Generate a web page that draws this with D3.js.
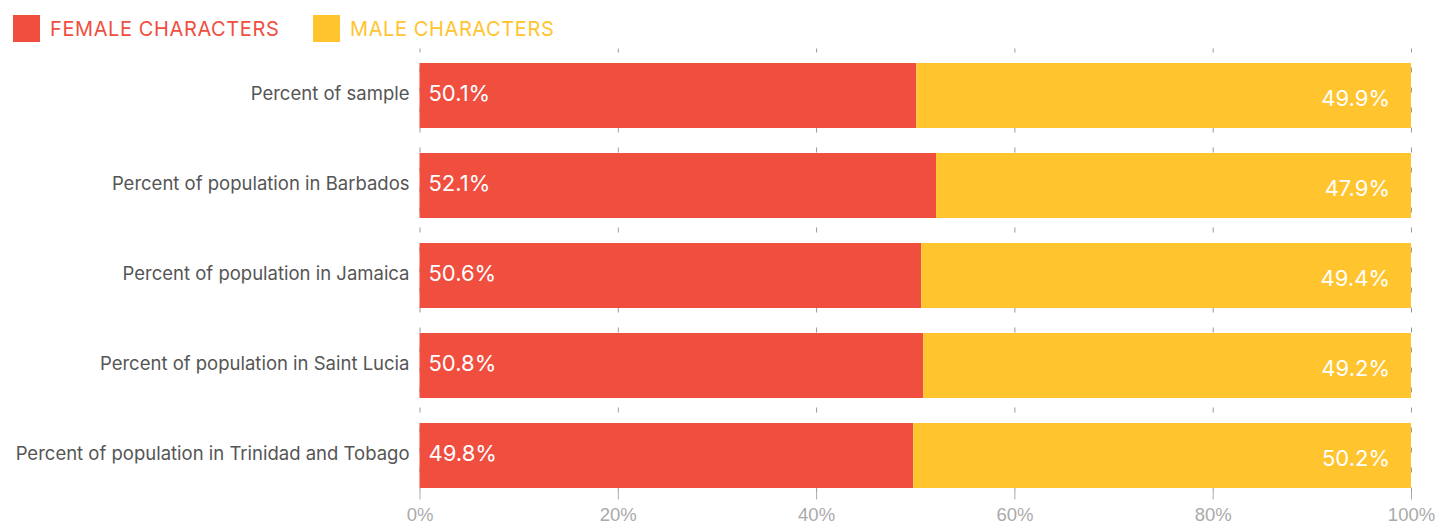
<!DOCTYPE html>
<html lang='en'>
<head>
<meta charset='UTF-8'>
<title>Female vs male characters</title>
<script src='https://cdn.jsdelivr.net/npm/d3@7'></script>
<style>
    body { margin: 0; background: #fff; font-family: Inter, 'Noto Sans', sans-serif; }
    .grid line { stroke: #999; stroke-dasharray: 5 15; }
    .grid path { display: none; }
    .cat { fill: #555; font-size: 18.5px; }
    .val { fill: #fff; font-size: 22px; }
    .axis text { fill: #aaa; font-size: 18.5px; }
    .axis line { stroke: #aaa; }
    .axis path { display: none; }
</style>
</head>
<body>
<script>
    // data
    const categories = [
        'Percent of sample',
        'Percent of population in Barbados',
        'Percent of population in Jamaica',
        'Percent of population in Saint Lucia',
        'Percent of population in Trinidad and Tobago'
    ];
    const female = [50.1, 52.1, 50.6, 50.8, 49.8];
    const male = [49.9, 47.9, 49.4, 49.2, 50.2];
    const seriesNames = ['FEMALE CHARACTERS', 'MALE CHARACTERS'];
    const colors = ['#F04E3F', '#FFC42E'];
    const xTicks = [0, 20, 40, 60, 80, 100];

    const W = 1437, H = 527;
    const margin = { top: 58.5, right: 26, bottom: 34.5, left: 419.5 };
    const width = W - margin.left - margin.right;
    const height = H - margin.top - margin.bottom;

    const svg = d3.select('body').append('svg')
        .attr('width', W).attr('height', H);

    const g = svg.append('g').attr('transform', `translate(${margin.left},${margin.top})`);

    const x = d3.scaleLinear().domain([0, 100]).range([0, width]);
    const y = d3.scaleBand().domain(categories).range([0, height]).paddingInner(0.278).paddingOuter(0.05);

    // dashed grid behind bars
    g.append('g')
        .attr('class', 'grid')
        .attr('transform', `translate(0,${height})`)
        .call(d3.axisBottom(x).tickValues(xTicks).tickSize(-height - 10).tickFormat(''));

    const rows = categories.map((c, i) => ({ cat: c, f: female[i], m: male[i] }));

    const row = g.selectAll('.row').data(rows).enter().append('g')
        .attr('class', 'row')
        .attr('transform', d => `translate(0,${y(d.cat)})`);

    row.append('rect')
        .attr('x', 0).attr('y', 0)
        .attr('width', d => x(d.f)).attr('height', y.bandwidth())
        .attr('fill', colors[0]);

    row.append('rect')
        .attr('x', d => x(d.f)).attr('y', 0)
        .attr('width', d => x(d.f + d.m) - x(d.f)).attr('height', y.bandwidth())
        .attr('fill', colors[1]);

    row.append('text')
        .attr('class', 'val')
        .attr('x', 9).attr('y', y.bandwidth() / 2 - 2)
        .attr('dy', '0.35em')
        .text(d => d.f + '%');

    row.append('text')
        .attr('class', 'val')
        .attr('x', d => x(d.f + d.m) - 21).attr('y', y.bandwidth() / 2 + 3)
        .attr('dy', '0.35em').attr('text-anchor', 'end')
        .text(d => d.m + '%');

    row.append('text')
        .attr('class', 'cat')
        .attr('x', -10).attr('y', y.bandwidth() / 2 - 2)
        .attr('dy', '0.35em').attr('text-anchor', 'end')
        .text(d => d.cat);

    // x axis
    g.append('g')
        .attr('class', 'axis')
        .attr('transform', `translate(0,${height})`)
        .call(d3.axisBottom(x).tickValues(xTicks).tickSize(7).tickPadding(8).tickFormat(d => d + '%'));

    // legend
    const legend = svg.append('g').attr('transform', 'translate(13,15)');
    const lx = [0, 300];
    seriesNames.forEach((s, i) => {
        legend.append('rect').attr('x', lx[i]).attr('y', 0)
            .attr('width', 27).attr('height', 27).attr('fill', colors[i]);
        legend.append('text').attr('x', lx[i] + 37).attr('y', 14)
            .attr('dy', '0.35em').attr('fill', colors[i])
            .style('font-size', '20px').style('letter-spacing', '0.6px')
            .text(s);
    });
</script>
</body>
</html>
